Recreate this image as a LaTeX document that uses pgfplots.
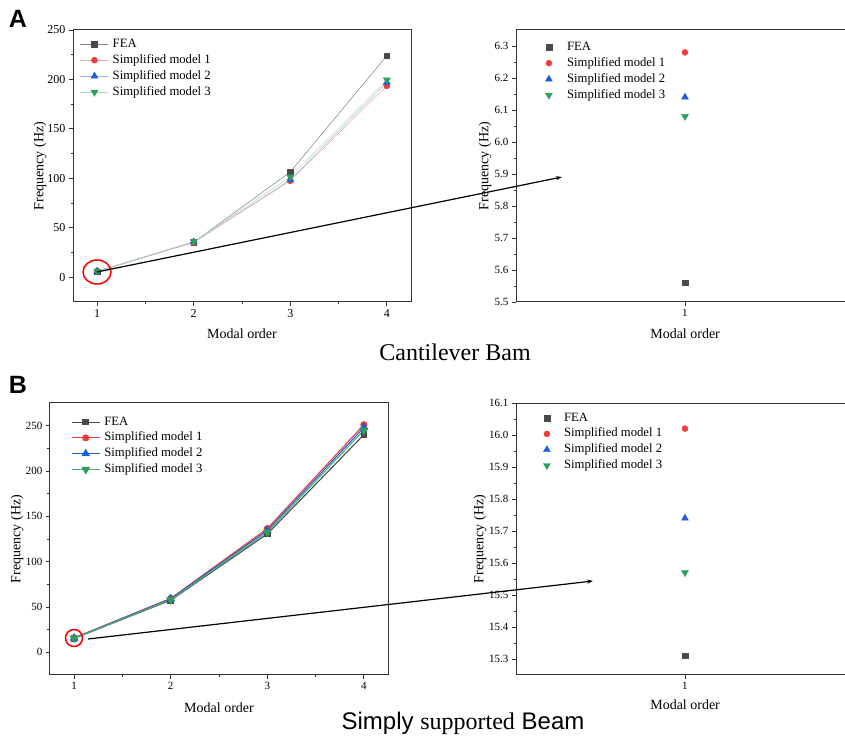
\documentclass[border=0pt]{standalone}
\usepackage{fontspec}
\setmainfont{Liberation Serif}
\newfontfamily\arial{Liberation Sans}
\usepackage{pgfplots}
\pgfplotsset{compat=1.18}
\usetikzlibrary{arrows.meta}

\definecolor{feagray}{HTML}{4A4A4A}
\definecolor{mred}{HTML}{F03C3C}
\definecolor{mblue}{HTML}{1F5FDC}
\definecolor{mgreen}{HTML}{2CA05A}

\newcommand\labfont{\fontsize{14}{14}\selectfont}

\pgfplotsset{
  panel/.style={
    scale only axis, anchor=south west,
    tick align=outside, tick pos=left,
    axis line style={line width=1pt, black!80, -},
    every tick/.style={black!80, line width=0.8pt},
    major tick length=4pt, minor tick length=2.5pt,
    minor tick num=1,
    /pgf/number format/assume math mode=true,
    tick label style={font=\fontsize{11}{11}\selectfont},
    every axis x label/.style={at={(axis description cs:0.5,0)}, anchor=center, yshift=-32pt, font=\labfont},
    every axis y label/.style={at={(axis description cs:0,0.5)}, anchor=center, xshift=-33pt, rotate=90, font=\labfont},
    legend style={draw=none, fill=none, inner sep=0pt, at={(rel axis cs:0,1)}, anchor=north west,
      font=\fontsize{12.7}{12.7}\selectfont,
      nodes={anchor=west, inner xsep=0pt, inner ysep=1pt, text height=10pt, text depth=4pt}},
    legend cell align=left,
  },
  linelegend/.style={legend image code/.code={
      \draw[mark repeat=2, mark phase=2, ##1] plot coordinates {(0pt,0pt) (14pt,0pt) (28pt,0pt)};
      \path (32pt,0pt);}},
  dotlegend/.style={legend image code/.code={
      \draw[##1] plot coordinates {(0pt,0pt)};
      \path (#1,0pt) (-3.5pt,0pt);}},
  fea/.style={mark=square*, mark size=2.8pt, mark options={solid, fill=feagray, draw=feagray}},
  sm1/.style={mark=*, mark size=3pt, mark options={solid, fill=mred, draw=mred}},
  sm2/.style={mark=triangle*, mark size=4pt, mark options={solid, fill=mblue, draw=mblue}},
  sm3/.style={mark=triangle*, mark size=4pt, mark options={solid, fill=mgreen, draw=mgreen, rotate=180}},
}

\begin{document}
\begin{tikzpicture}[x=1pt, y=1pt]
\useasboundingbox (0,0) rectangle (845,738);

% ---- A: cantilever, all modes ----
\begin{axis}[panel, linelegend,
  at={(73pt,436pt)}, width=338pt, height=272pt,
  xmin=0.75, xmax=4.25, ymin=-25, ymax=250,
  xtick={1,2,3,4}, ytick={0,50,100,150,200,250},
  tick label style={font=\fontsize{12}{12}\selectfont},
  xlabel={Modal order}, ylabel={Frequency (Hz)},
  legend style={xshift=7pt, yshift=-6pt},
]
\addplot[fea, feagray!70, line width=0.5pt] coordinates {(1,5.56) (2,35.5) (3,106.5) (4,224)};
\addlegendentry{FEA}
\addplot[sm1, mred!45, line width=0.5pt] coordinates {(1,6.28) (2,35) (3,97.5) (4,193.5)};
\addlegendentry{Simplified model 1}
\addplot[sm2, mblue!45, line width=0.5pt] coordinates {(1,6.14) (2,35.8) (3,98.5) (4,197)};
\addlegendentry{Simplified model 2}
\addplot[sm3, mgreen!40, line width=0.5pt] coordinates {(1,6.08) (2,36) (3,101.5) (4,199.5)};
\addlegendentry{Simplified model 3}
\end{axis}

% ---- A: mode 1 zoom ----
\begin{axis}[panel, dotlegend=18pt,
  at={(516pt,436pt)}, width=329pt, height=272pt,
  axis x line*=bottom, axis y line*=left,
  xmin=0, xmax=1.947, ymin=5.5, ymax=6.35,
  xtick={1}, minor xtick={},
  ytick={5.5,5.6,...,6.31}, minor y tick num=1,
  yticklabel style={/pgf/number format/.cd, fixed, fixed zerofill, precision=1},
  xlabel={Modal order}, ylabel={Frequency (Hz)},
  every axis x label/.style={at={(axis description cs:0.514,0)}, anchor=center, yshift=-32pt, font=\labfont},
  every axis y label/.style={at={(axis description cs:0,0.5)}, anchor=center, xshift=-31pt, rotate=90, font=\labfont},
  legend style={xshift=29pt, yshift=-9pt},
]
\draw[line width=1pt, black!80] (rel axis cs:0,1) -- (rel axis cs:1,1);
\addplot[fea, only marks] coordinates {(1,5.56)};
\addlegendentry{FEA}
\addplot[sm1, only marks] coordinates {(1,6.28)};
\addlegendentry{Simplified model 1}
\addplot[sm2, only marks] coordinates {(1,6.14)};
\addlegendentry{Simplified model 2}
\addplot[sm3, only marks] coordinates {(1,6.08)};
\addlegendentry{Simplified model 3}
\end{axis}

% ---- B: simply supported, all modes ----
\begin{axis}[panel, linelegend,
  at={(50pt,63pt)}, width=338pt, height=272pt,
  xmin=0.75, xmax=4.25, ymin=-25, ymax=275,
  xtick={1,2,3,4}, ytick={0,50,100,150,200,250},
  xlabel={Modal order}, ylabel={Frequency (Hz)},
  every axis x label/.style={at={(axis description cs:0.5,0)}, anchor=center, yshift=-33pt, font=\labfont},
  legend style={xshift=21pt, yshift=-11pt, nodes={inner ysep=0.9pt}},
]
\addplot[fea, feagray, line width=1.1pt] coordinates {(1,15.31) (2,57.5) (3,130.5) (4,240)};
\addlegendentry{FEA}
\addplot[sm1, mred, line width=1.1pt] coordinates {(1,16.02) (2,59.5) (3,136.5) (4,251)};
\addlegendentry{Simplified model 1}
\addplot[sm2, mblue, line width=1.1pt] coordinates {(1,15.74) (2,59) (3,134.5) (4,248)};
\addlegendentry{Simplified model 2}
\addplot[sm3, mgreen!85, line width=1.1pt] coordinates {(1,15.57) (2,58) (3,132.5) (4,245)};
\addlegendentry{Simplified model 3}
\end{axis}

% ---- B: mode 1 zoom ----
\begin{axis}[panel, dotlegend=17pt,
  at={(516pt,63pt)}, width=329pt, height=272pt,
  axis x line*=bottom, axis y line*=left,
  xmin=0, xmax=1.947, ymin=15.25, ymax=16.1,
  xtick={1}, minor xtick={},
  ytick={15.3,15.4,...,16.11}, minor y tick num=1,
  yticklabel style={/pgf/number format/.cd, fixed, fixed zerofill, precision=1},
  xlabel={Modal order}, ylabel={Frequency (Hz)},
  every axis x label/.style={at={(axis description cs:0.514,0)}, anchor=center, yshift=-30pt, font=\labfont},
  every axis y label/.style={at={(axis description cs:0,0.5)}, anchor=center, xshift=-36pt, rotate=90, font=\labfont},
  legend style={xshift=27pt, yshift=-7pt, nodes={inner ysep=0.9pt}},
]
\draw[line width=1pt, black!80] (rel axis cs:0,1) -- (rel axis cs:1,1);
\addplot[fea, only marks] coordinates {(1,15.31)};
\addlegendentry{FEA}
\addplot[sm1, only marks] coordinates {(1,16.02)};
\addlegendentry{Simplified model 1}
\addplot[sm2, only marks] coordinates {(1,15.74)};
\addlegendentry{Simplified model 2}
\addplot[sm3, only marks] coordinates {(1,15.57)};
\addlegendentry{Simplified model 3}
\end{axis}

% zoom callouts
\draw[red, line width=1.5pt] (97,466) ellipse (14 and 12);
\draw[red, line width=1.5pt] (74,100) ellipse (8.5 and 8.5);
\draw[-{Stealth[length=6pt, width=4pt]}, line width=1.2pt] (97,466) -- (562,561);
\draw[-{Stealth[length=6pt, width=4pt]}, line width=1.2pt] (88,99) -- (593,157);

% panel letters and captions
\node[font=\arial\bfseries\fontsize{25}{25}\selectfont] at (18,719) {A};
\node[font=\arial\bfseries\fontsize{25}{25}\selectfont] at (18,353) {B};
\node[font=\fontsize{24}{24}\selectfont] at (455,386) {Cantilever Bam};
\node[font=\fontsize{24}{24}\selectfont] at (463,15) {{\arial Simply }supported{\arial\ Beam}};
\end{tikzpicture}
\end{document}
